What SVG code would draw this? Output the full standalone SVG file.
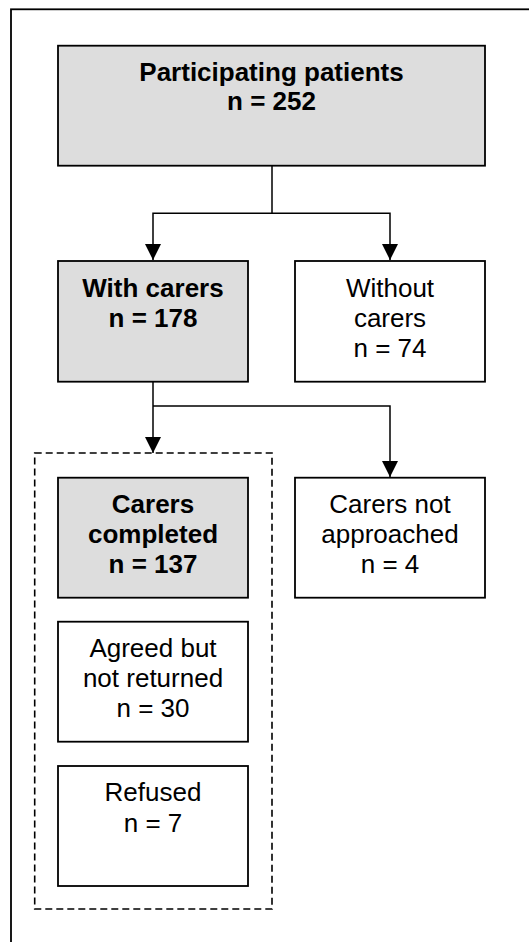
<svg xmlns="http://www.w3.org/2000/svg" width="529" height="942" viewBox="0 0 529 942">
  <style>
    .box { stroke: #000; stroke-width: 1.8; }
    .grey { fill: #dddddd; }
    .white { fill: #ffffff; }
    .t { font-family: "Liberation Sans", Arial, sans-serif; font-size: 26px; text-anchor: middle; fill: #000; }
    .b { font-weight: bold; }
    .wire { fill: none; stroke: #000; stroke-width: 1.5; }
  </style>
  <defs>
    <marker id="arrow" viewBox="0 0 16 16" refX="16" refY="8" markerWidth="16" markerHeight="16" markerUnits="userSpaceOnUse" orient="auto">
      <path d="M0,0 L16,8 L0,16 Z" fill="#000"/>
    </marker>
  </defs>

  <rect width="529" height="942" fill="#ffffff"/>
  <!-- page frame -->
  <rect x="11" y="9.3" width="540" height="960" fill="none" stroke="#000" stroke-width="1.8"/>

  <!-- connectors -->
  <g id="connectors">
    <path class="wire" d="M272,166 V213.3 H153 V260" marker-end="url(#arrow)"/>
    <path class="wire" d="M272,213.3 H390 V260" marker-end="url(#arrow)"/>
    <path class="wire" d="M153,382 V406 V453" marker-end="url(#arrow)"/>
    <path class="wire" d="M153,406 H390 V477" marker-end="url(#arrow)"/>
  </g>

  <g id="participating">
    <rect class="box grey" x="58" y="45.7" width="427" height="120"/>
    <text class="t b" x="271.5" y="80.7">Participating patients</text>
    <text class="t b" x="271.5" y="110">n = 252</text>
  </g>

  <g id="with-carers">
    <rect class="box grey" x="58" y="261" width="190" height="120.7"/>
    <text class="t b" x="153" y="296.7">With carers</text>
    <text class="t b" x="153" y="326.7">n = 178</text>
  </g>

  <g id="without-carers">
    <rect class="box white" x="295" y="261" width="190" height="120.7"/>
    <text class="t" x="390" y="296.7">Without</text>
    <text class="t" x="390" y="327">carers</text>
    <text class="t" x="390" y="357.3">n = 74</text>
  </g>

  <g id="carer-outcomes">
    <rect x="34.7" y="453" width="237.3" height="456" fill="none" stroke="#000" stroke-width="1.6" stroke-dasharray="7,4"/>
  </g>

  <g id="carers-completed">
    <rect class="box grey" x="58" y="477.7" width="190" height="120"/>
    <text class="t b" x="153" y="513.3">Carers</text>
    <text class="t b" x="153" y="543.3">completed</text>
    <text class="t b" x="153" y="573.3">n = 137</text>
  </g>

  <g id="not-approached">
    <rect class="box white" x="295" y="477.7" width="190" height="120"/>
    <text class="t" x="390" y="513">Carers not</text>
    <text class="t" x="390" y="543.3">approached</text>
    <text class="t" x="390" y="573.3">n = 4</text>
  </g>

  <g id="agreed-not-returned">
    <rect class="box white" x="58" y="621.7" width="190" height="120"/>
    <text class="t" x="153" y="657.3">Agreed but</text>
    <text class="t" x="153" y="687.3">not returned</text>
    <text class="t" x="153" y="717.3">n = 30</text>
  </g>

  <g id="refused">
    <rect class="box white" x="58" y="766" width="190" height="120"/>
    <text class="t" x="153" y="800.7">Refused</text>
    <text class="t" x="153" y="831.7">n = 7</text>
  </g>
</svg>
